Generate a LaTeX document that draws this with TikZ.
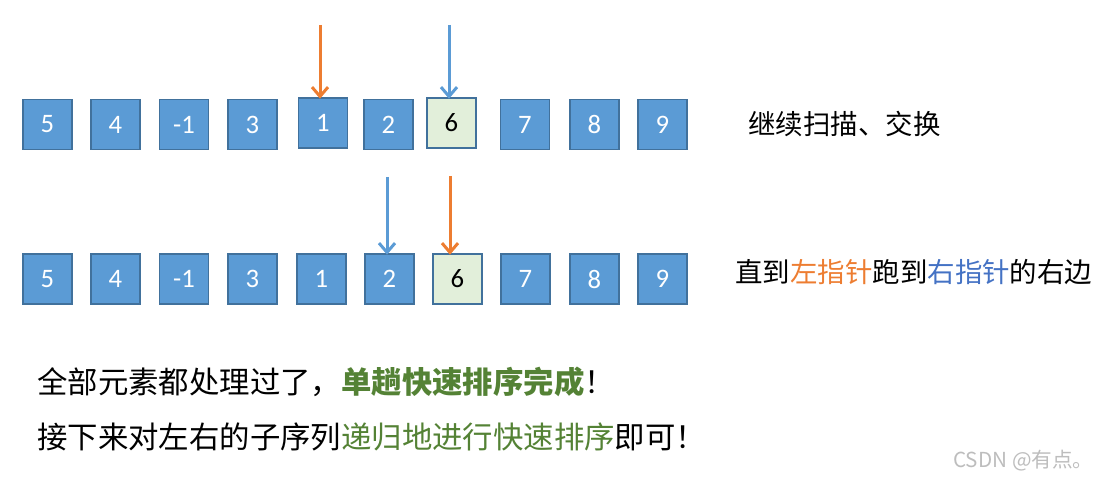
\documentclass[tikz,border=0pt]{standalone}
\usepackage{fontspec}
\setmainfont{Carlito}
\newfontfamily\cjk{Noto Sans CJK SC}
\usetikzlibrary{arrows.meta}
\definecolor{boxblue}{HTML}{5B9BD5}
\definecolor{boxedge}{HTML}{41719C}
\definecolor{pivotfill}{HTML}{E2EFDA}
\definecolor{ptrorange}{HTML}{ED7D31}
\definecolor{ptrblue}{HTML}{5B9BD5}
\definecolor{txtorange}{HTML}{ED7D31}
\definecolor{txtblue}{HTML}{4472C4}
\definecolor{txtgreen}{HTML}{548235}
\definecolor{wmgray}{HTML}{BDBDBD}
\begin{document}
\begin{tikzpicture}[x=0.75pt,y=-0.75pt,
  cell/.style={draw=boxedge,fill=boxblue,line width=0.9pt,minimum width=36.75pt,minimum height=37.5pt,inner sep=0pt,text=white,font=\fontsize{20}{20}\selectfont},
  pivot/.style={cell,fill=pivotfill,text=black},
  ptr/.style={line width=2.25pt,-{Straight Barb[length=7pt,width=12pt]},shorten >=-1pt},
  note/.style={anchor=west,inner sep=0pt,font=\cjk\fontsize{20.6}{24}\selectfont},
  big/.style={anchor=west,inner sep=0pt,font=\cjk\fontsize{22.8}{26}\selectfont},
  wmark/.style={anchor=west,inner sep=0pt,text=wmgray,font=\cjk\fontsize{15.5}{18}\selectfont}]
\useasboundingbox (0,0) rectangle (1104,481);
% top row
\node[cell] (a1) at (47.5,124.5) {5};
\node[cell] (a2) at (115.5,124.5) {4};
\node[cell] (a3) at (184,124.5) {-1};
\node[cell] (a4) at (252.5,124.5) {3};
\node[cell] (a5) at (323,123) {1};
\node[cell] (a6) at (388.5,124.5) {2};
\node[pivot] (a7) at (451.5,123) {6};
\node[cell] (a8) at (525,124.5) {7};
\node[cell] (a9) at (594.5,124.5) {8};
\node[cell] (a10) at (662.5,124.5) {9};
% bottom row
\node[cell] (b1) at (47.5,279) {5};
\node[cell] (b2) at (115.5,279) {4};
\node[cell] (b3) at (184,279) {-1};
\node[cell] (b4) at (252.5,279) {3};
\node[cell] (b5) at (321.5,279) {1};
\node[cell] (b6) at (389.5,279) {2};
\node[pivot] (b7) at (457.5,279) {6};
\node[cell] (b8) at (525.5,279) {7};
\node[cell] (b9) at (594.5,279) {8};
\node[cell] (b10) at (662.5,279) {9};
% pointers
\coordinate (lt) at (320,25);
\coordinate (rt) at (449,25);
\coordinate (lb) at (450,176);
\coordinate (rb) at (387,177);
\draw[ptr,ptrorange] (lt) -- (lt |- a5.north);
\draw[ptr,ptrblue] (rt) -- (rt |- a7.north);
\draw[ptr,ptrblue] (rb) -- (rb |- b6.north);
\draw[ptr,ptrorange] (lb) -- (lb |- b7.north);
% texts
\node[note] (t1) at (748,124) {继续扫描、交换};
\node[note] (t2) at (735,272) {直到\textcolor{txtorange}{左指针}跑到\textcolor{txtblue}{右指针}的右边};
\node[big] (t3) at (37,382) {全部元素都处理过了，\textcolor{txtgreen}{\bfseries 单趟快速排序完成}！};
\node[big] (t4) at (37,437) {接下来对左右的子序列\textcolor{txtgreen}{递归地进行快速排序}即可！};
\node[wmark] (wm) at (953,461) {CSDN @有点。};
\end{tikzpicture}
\end{document}
